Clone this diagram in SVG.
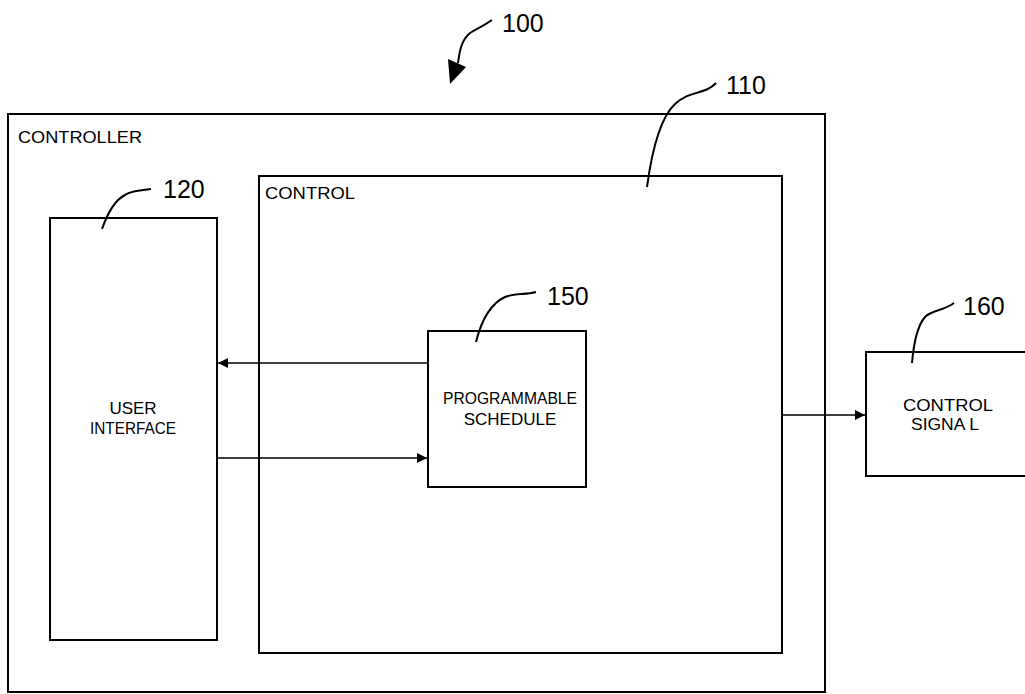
<svg xmlns="http://www.w3.org/2000/svg" width="1025" height="694" viewBox="0 0 1025 694">
<style>
.box{fill:none;stroke:#000;stroke-width:2}
.lbl{font-family:"Liberation Sans",Arial,sans-serif;font-size:17px;fill:#000}
.num{font-family:"Liberation Sans",Arial,sans-serif;font-size:25px;fill:#000}
.lead{fill:none;stroke:#000;stroke-width:2}
.conn{fill:none;stroke:#000;stroke-width:1.5}
</style>
<defs>
<marker id="ah" viewBox="0 0 10 10" refX="10" refY="5" markerWidth="12" markerHeight="10" markerUnits="userSpaceOnUse" orient="auto">
<path d="M0,0 L10,5 L0,10 z" fill="#000"/>
</marker>
</defs>
<rect width="1025" height="694" fill="#fff"/>
<g id="ref100">
<path class="lead" d="M492,20 C482,27 476,29 470,33 C462,40 460,48 458,63"/>
<path d="M448,59 L466,67 L450,84 z" fill="#000"/>
<text class="num" x="502" y="32">100</text>
</g>
<g id="controller">
<rect class="box" x="8" y="114" width="817" height="578"/>
<text class="lbl" x="18" y="143" textLength="124" lengthAdjust="spacingAndGlyphs">CONTROLLER</text>
</g>
<g id="control">
<rect class="box" x="259" y="176" width="523" height="477"/>
<text class="lbl" x="265" y="199" textLength="90" lengthAdjust="spacingAndGlyphs">CONTROL</text>
<path class="lead" d="M716,83 C705,95 690,90 675,104 C660,118 652,150 647,187"/>
<text class="num" x="726" y="94">110</text>
</g>
<g id="user-interface">
<rect class="box" x="50" y="218" width="167" height="422"/>
<text class="lbl" x="133" y="414" text-anchor="middle">USER</text>
<text class="lbl" x="133" y="434" text-anchor="middle" textLength="86" lengthAdjust="spacingAndGlyphs">INTERFACE</text>
<path class="lead" d="M151,189 C140,191 132,190 125,195 C115,200 108,212 102,229"/>
<text class="num" x="163" y="198">120</text>
</g>
<g id="schedule">
<rect class="box" x="428" y="331" width="158" height="156"/>
<text class="lbl" x="510" y="404" text-anchor="middle" textLength="134" lengthAdjust="spacingAndGlyphs">PROGRAMMABLE</text>
<text class="lbl" x="510" y="425" text-anchor="middle">SCHEDULE</text>
<path class="lead" d="M536,292 C525,295 515,293 505,297 C492,303 482,318 476,342"/>
<text class="num" x="547" y="305">150</text>
</g>
<g id="control-signal">
<rect class="box" x="866" y="352" width="170" height="124"/>
<text class="lbl" x="948" y="411" text-anchor="middle" textLength="90" lengthAdjust="spacingAndGlyphs">CONTROL</text>
<text class="lbl" x="945" y="430" text-anchor="middle" textLength="68" lengthAdjust="spacingAndGlyphs">SIGNA L</text>
<path class="lead" d="M954,303 C943,311 932,310 925,317 C918,325 914,340 912,363"/>
<text class="num" x="963" y="315">160</text>
</g>
<g id="connectors">
<line class="conn" x1="428" y1="363" x2="218" y2="363" marker-end="url(#ah)"/>
<line class="conn" x1="217" y1="458" x2="427" y2="458" marker-end="url(#ah)"/>
<line class="conn" x1="782" y1="415" x2="865" y2="415" marker-end="url(#ah)"/>
</g>
</svg>
